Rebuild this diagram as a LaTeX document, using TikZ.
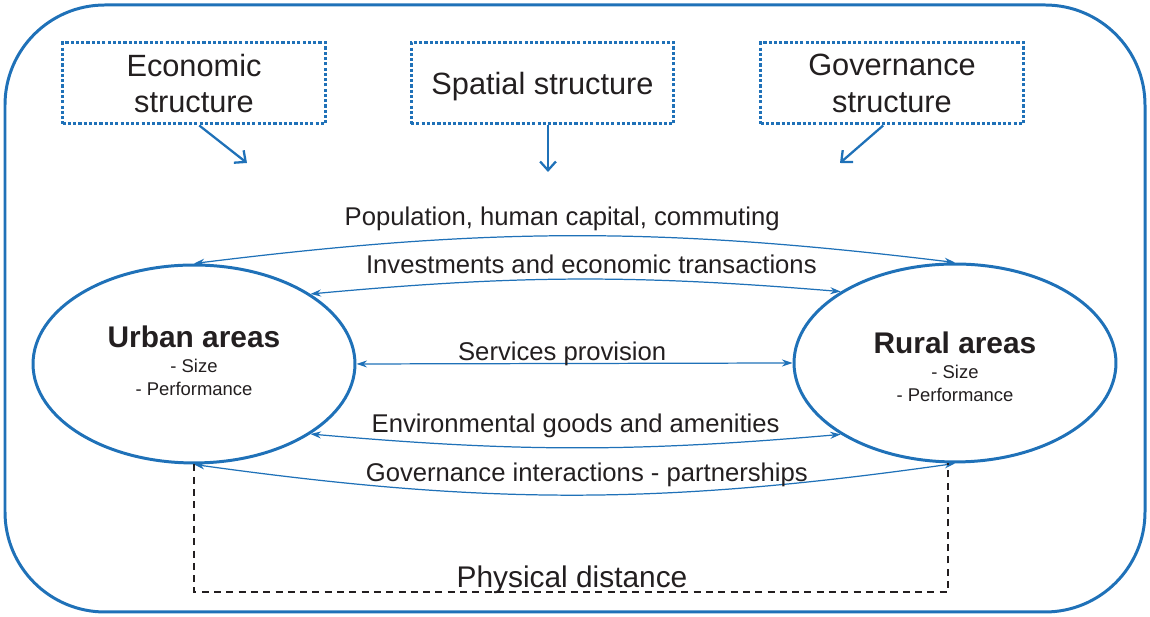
\documentclass[tikz,border=0pt]{standalone}
\usepackage{fontspec}
\setmainfont{Liberation Sans}
\usetikzlibrary{shapes.geometric,arrows.meta}
\definecolor{linkblue}{RGB}{31,113,184}
\definecolor{ink}{RGB}{35,31,32}

\begin{document}
\begin{tikzpicture}[x=0.02cm, y=0.02cm, every node/.style={text=ink},
    factor/.style={draw=linkblue, line width=1.7pt, dash pattern=on 1.8pt off 1.2pt,
        minimum width=5.26cm, minimum height=1.62cm, inner sep=0pt, align=center,
        font=\fontsize{17.5}{21}\selectfont},
    area/.style={ellipse, draw=linkblue, line width=1.7pt, minimum width=6.44cm,
        minimum height=3.96cm, inner sep=0pt},
    areatext/.style={align=center, inner sep=0pt},
    link/.style={draw=linkblue, line width=0.7pt,
        {Stealth[length=6pt,width=4pt]}-{Stealth[length=6pt,width=4pt]}},
    push/.style={draw=linkblue, line width=1.3pt, -{Straight Barb[length=5pt,width=9pt]}},
    lbl/.style={font=\fontsize{14.6}{16}\selectfont, inner sep=1pt}]

    \useasboundingbox (0,0) rectangle (1150,617);
    \draw[linkblue, line width=1.7pt, rounded corners=2cm] (5,5) rectangle (1145,612);

    % structures on top
    \node[factor] (econ) at (194,533.5) {Economic\\structure};
    \node[factor, text depth=0pt] (spatial) at (542.5,533.5) {Spatial structure};
    \node[factor] (gov) at (892,533.5) {Governance\\structure};

    \coordinate (econ-in) at (247,454);
    \coordinate (spatial-in) at (548,445);
    \coordinate (gov-in) at (840,454);
    \draw[push] ([xshift=3]econ.south) -- (econ-in);
    \draw[push] (spatial.south -| spatial-in) -- (spatial-in);
    \draw[push] ([xshift=-5]gov.south) -- (gov-in);

    % the two areas
    \node[area] (urban) at (194,253) {};
    \node[area] (rural) at (955,254) {};
    \node[areatext] (urban-txt) at ([yshift=2]urban.center)
        {{\fontsize{17}{20}\selectfont\bfseries Urban areas}\\[2.7pt]
        {\fontsize{10.5}{12}\selectfont - Size}\\[0.7pt]{\fontsize{10.5}{12}\selectfont - Performance}};
    \node[areatext] (rural-txt) at ([yshift=-2]rural.center)
        {{\fontsize{17}{20}\selectfont\bfseries Rural areas}\\[2.7pt]
        {\fontsize{10.5}{12}\selectfont - Size}\\[0.7pt]{\fontsize{10.5}{12}\selectfont - Performance}};

    % flows between them
    \draw[link] (urban.north) to[bend left=7]
        node[lbl, midway, above=1.5pt, xshift=-7] {Population, human capital, commuting} (rural.north);
    \draw[link] (urban.31) to[bend left=5]
        node[lbl, midway, above=2pt, xshift=9] {Investments and economic transactions} (rural.148);
    \draw[link] (urban.east) --
        node[lbl, midway, above=-2.5pt, xshift=-7] {Services provision} (rural.west);
    \draw[link] (urban.-31) to[bend right=5]
        node[lbl, midway, above=4.5pt] {Environmental goods and amenities} (rural.-148);
    \draw[link] (urban.south) to[bend right=8]
        node[lbl, midway, above=3.5pt, xshift=7] {Governance interactions - partnerships} (rural.south);

    % distance line
    \draw[ink, line width=0.8pt, dash pattern=on 4pt off 3pt]
        (urban.south) -- (urban.south |- 0,25) -| ([xshift=-4]rural.south);
    \node[font=\fontsize{17}{19}\selectfont, anchor=base] (dist) at (572,29) {Physical distance};
\end{tikzpicture}
\end{document}
